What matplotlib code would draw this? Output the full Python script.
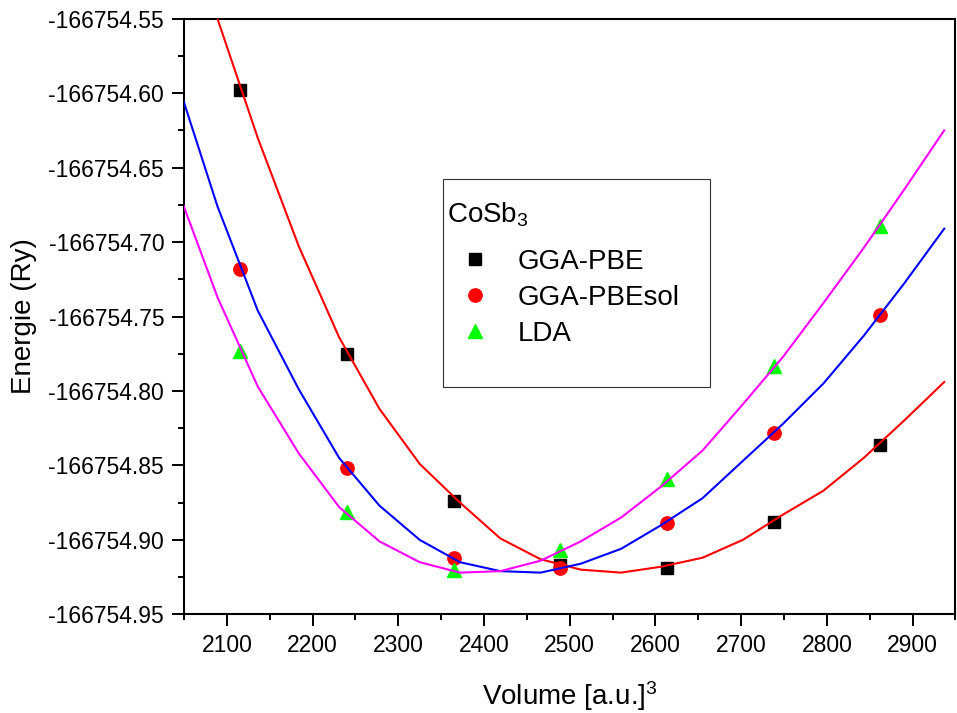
import numpy as np
import matplotlib
matplotlib.use('Agg')
from matplotlib import pyplot as plt
from matplotlib.ticker import FormatStrFormatter, MultipleLocator
from matplotlib.patches import Rectangle

plt.rcParams['font.family'] = ['Liberation Sans', 'DejaVu Sans']
plt.rcParams['mathtext.fontset'] = 'custom'
plt.rcParams['mathtext.rm'] = 'Liberation Sans'
plt.rcParams['mathtext.it'] = 'Liberation Sans:italic'

# computed points (volume in a.u.^3, total energy in Ry)
volume = [2115.5, 2240, 2364.5, 2489, 2613.5, 2738, 2862.5]
e_pbe = [-166754.598, -166754.775, -166754.874, -166754.917,
         -166754.919, -166754.888, -166754.836]
e_pbesol = [-166754.718, -166754.852, -166754.912, -166754.919,
            -166754.889, -166754.828, -166754.749]
e_lda = [-166754.773, -166754.881, -166754.920, -166754.907,
         -166754.859, -166754.783, -166754.689]

# equation-of-state fit curves, sampled volumes
v_fit = [2042, 2089, 2136, 2184, 2231, 2278, 2325, 2372, 2419, 2466,
         2513, 2560, 2607, 2655, 2702, 2749, 2796, 2843, 2890, 2937]
fit_pbe = [-166754.450, -166754.550, -166754.630, -166754.703, -166754.764,
           -166754.812, -166754.849, -166754.875, -166754.899, -166754.913,
           -166754.920, -166754.922, -166754.918, -166754.912, -166754.900,
           -166754.883, -166754.867, -166754.845, -166754.820, -166754.794]
fit_pbesol = [-166754.592, -166754.676, -166754.746, -166754.799, -166754.845,
              -166754.877, -166754.900, -166754.915, -166754.921, -166754.922,
              -166754.916, -166754.906, -166754.890, -166754.872, -166754.847,
              -166754.822, -166754.795, -166754.763, -166754.728, -166754.691]
fit_lda = [-166754.664, -166754.737, -166754.797, -166754.842, -166754.878,
           -166754.901, -166754.915, -166754.922, -166754.921, -166754.914,
           -166754.901, -166754.885, -166754.864, -166754.840, -166754.809,
           -166754.777, -166754.741, -166754.704, -166754.665, -166754.625]

fig = plt.figure(figsize=(9.57, 7.13), dpi=100)
ax = fig.add_axes([0.1923, 0.1384, 0.806, 0.8354])

ax.plot(v_fit, fit_pbe, color='#ff0000', lw=1.5, zorder=4)
ax.plot(v_fit, fit_pbesol, color='#0000ff', lw=1.5, zorder=4)
ax.plot(v_fit, fit_lda, color='#ff00ff', lw=1.5, zorder=4)

ax.plot(volume, e_pbe, ls='none', marker='s', ms=8.2, color='black',
        label='GGA-PBE', zorder=3)
ax.plot(volume, e_pbesol, ls='none', marker='o', ms=9.6, color='#ff0000',
        label='GGA-PBEsol', zorder=3)
ax.plot(volume, e_lda, ls='none', marker='^', ms=10, color='#00ff00',
        label='LDA', zorder=3)

ax.set_xlim(2050, 2950)
ax.set_ylim(-166754.95, -166754.55)
ax.set_xticks(np.arange(2100, 2901, 100))
ax.xaxis.set_minor_locator(MultipleLocator(50))
ax.set_yticks([np.round(-166754.95 + 0.05 * i, 2) for i in range(9)])
ax.set_yticks([np.round(-166754.925 + 0.05 * i, 3) for i in range(8)], minor=True)
ax.yaxis.set_major_formatter(FormatStrFormatter('%.2f'))

for side in ['left', 'bottom', 'top', 'right']:
    ax.spines[side].set_linewidth(1.5)
ax.tick_params(which='major', direction='out', length=8.3, width=1.4,
               labelsize=16.5, pad=6)
ax.tick_params(which='minor', direction='out', length=4, width=1.4)

ax.set_xlabel('Volume [a.u.]$^3$', fontsize=20, labelpad=15.5)
ax.set_ylabel('Energie (Ry)', fontsize=20, labelpad=8)

# legend box with compound name as heading
ax.add_patch(Rectangle((0.3355, 0.3811), 0.3467, 0.3492, transform=ax.transAxes,
                       fill=False, edgecolor='#333333', lw=0.8, zorder=5))
ax.text(0.3407, 0.657, 'CoSb$_3$', transform=ax.transAxes, fontsize=20,
        va='baseline', ha='left', zorder=6)
leg = ax.legend(loc='center left', bbox_to_anchor=(0.337, 0.531), frameon=False,
                fontsize=20, numpoints=1, borderpad=0, borderaxespad=0,
                handlelength=2.2, handletextpad=0.45, labelspacing=0.365)
leg.set_zorder(6)

fig.savefig('out.png', dpi=100)
